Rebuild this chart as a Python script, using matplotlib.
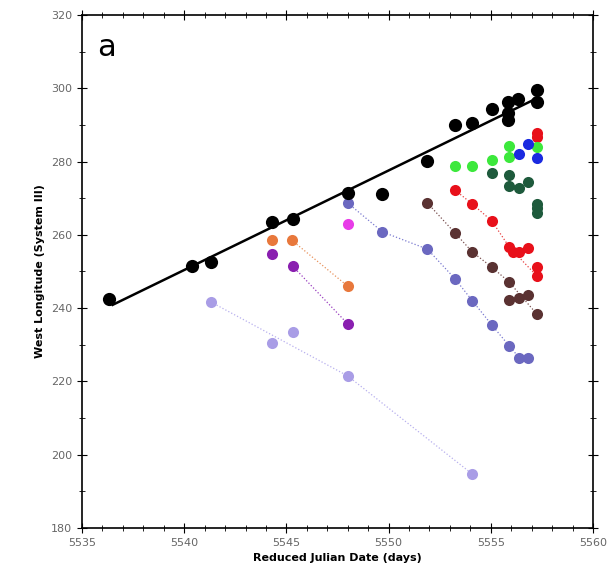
import numpy as np
import matplotlib
matplotlib.use("Agg")
import matplotlib.pyplot as plt
from matplotlib.ticker import MultipleLocator

# fitted drift line (black)
fit_x = [5536.5, 5557.3]
fit_y = [240.9, 297.4]

# black points
blk_x = [5536.3, 5540.4, 5541.3, 5544.3, 5545.3, 5548.0, 5549.7, 5551.9,
         5553.25, 5554.1, 5555.05, 5555.85, 5555.85, 5555.85, 5556.35, 5557.25, 5557.25]
blk_y = [242.4, 251.5, 252.6, 263.6, 264.3, 271.3, 271.1, 280.2,
         289.9, 290.5, 294.3, 296.3, 293.3, 291.3, 297.1, 299.5, 296.3]

# drifting features
lav_x = [5541.3, 5544.3, 5545.3, 5548.0, 5554.1]
lav_y = [241.7, 230.5, 233.5, 221.5, 194.7]

org_x = [5544.3, 5545.25, 5548.0]
org_y = [258.6, 258.6, 246.0]

pur_x = [5544.3, 5545.3, 5548.0]
pur_y = [254.8, 251.5, 235.7]

mag_x = [5548.0]
mag_y = [262.9]

slb_x = [5548.0, 5549.7, 5551.9, 5553.25, 5554.1, 5555.05, 5555.9, 5556.4, 5556.8]
slb_y = [268.7, 260.8, 256.1, 248.0, 242.0, 235.4, 229.7, 226.4, 226.4]

brn_x = [5551.9, 5553.25, 5554.1, 5555.05, 5555.9, 5555.9, 5556.4, 5556.8, 5557.25]
brn_y = [268.7, 260.5, 255.3, 251.2, 247.1, 242.2, 242.8, 243.6, 238.4]

red_x = [5553.25, 5554.1, 5555.05, 5555.9, 5556.1, 5556.4, 5556.8, 5557.25, 5557.25, 5557.25, 5557.25]
red_y = [272.2, 268.4, 263.8, 256.7, 255.3, 255.3, 256.4, 251.2, 248.8, 287.8, 286.7]

grn_x = [5553.25, 5554.1, 5555.05, 5555.9, 5555.9, 5557.25]
grn_y = [278.8, 278.8, 280.4, 284.3, 281.2, 284.0]

blu_x = [5556.4, 5556.8, 5557.25]
blu_y = [282.0, 284.8, 281.0]

dgr_x = [5555.05, 5555.9, 5555.9, 5556.4, 5556.8, 5557.25, 5557.25, 5557.25]
dgr_y = [276.9, 276.3, 273.3, 272.8, 274.4, 268.4, 267.3, 266.0]

fig = plt.figure(figsize=(6.09, 5.85), dpi=100, facecolor='white')
ax = fig.add_axes([82/609, 1-528/585, (593-82)/609, (528-15)/585])

# thin connecting lines
ax.plot([lav_x[0], lav_x[3], lav_x[4]], [lav_y[0], lav_y[3], lav_y[4]], ':', color='#b8b0ee', lw=0.9)
ax.plot(org_x[1:], org_y[1:], ':', color='#e8925c', lw=0.9)
ax.plot(pur_x[1:], pur_y[1:], ':', color='#9a40c0', lw=0.9)
ax.plot(slb_x, slb_y, ':', color='#7a7ad0', lw=0.9)
ax.plot(brn_x[:5] + brn_x[-1:], brn_y[:5] + brn_y[-1:], ':', color='#7a5050', lw=0.9)
ax.plot(red_x[:4] + red_x[8:9], red_y[:4] + red_y[8:9], ':', color='#e84040', lw=0.9)

ax.plot(fit_x, fit_y, '-', color='black', lw=1.8)

ms = 8
ax.plot(lav_x, lav_y, 'o', color='#a99de6', ms=ms, mec='none')
ax.plot(org_x, org_y, 'o', color='#e8783c', ms=ms, mec='none')
ax.plot(pur_x, pur_y, 'o', color='#8a1fb0', ms=ms, mec='none')
ax.plot(mag_x, mag_y, 'o', color='#e83ce8', ms=ms, mec='none')
ax.plot(slb_x, slb_y, 'o', color='#6b68c0', ms=ms, mec='none')
ax.plot(brn_x, brn_y, 'o', color='#5a3232', ms=ms, mec='none')
ax.plot(red_x, red_y, 'o', color='#e8101a', ms=ms, mec='none')
ax.plot(grn_x, grn_y, 'o', color='#3ce83c', ms=ms, mec='none')
ax.plot(dgr_x, dgr_y, 'o', color='#1e5a3c', ms=ms, mec='none')
ax.plot(blu_x, blu_y, 'o', color='#1a2ae0', ms=ms, mec='none')
ax.plot(blk_x, blk_y, 'o', color='black', ms=9.5, mec='none')

ax.set_xlim(5535, 5560)
ax.set_ylim(180, 320)
ax.xaxis.set_major_locator(MultipleLocator(5))
ax.xaxis.set_minor_locator(MultipleLocator(1))
ax.yaxis.set_major_locator(MultipleLocator(20))
ax.yaxis.set_minor_locator(MultipleLocator(10))
ax.tick_params(which='both', direction='inout', top=True, right=True,
               labelsize=8, labelcolor='#666666')
ax.tick_params(which='major', length=7)
ax.tick_params(which='minor', length=4)
for s in ax.spines.values():
    s.set_linewidth(1.2)

ax.set_xlabel("Reduced Julian Date (days)", fontsize=8, fontweight='bold')
ax.set_ylabel("West Longitude (System III)", fontsize=8, fontweight='bold')
ax.text(0.03, 0.965, "a", transform=ax.transAxes, fontsize=22, va='top')

fig.savefig('out.png', dpi=100)
